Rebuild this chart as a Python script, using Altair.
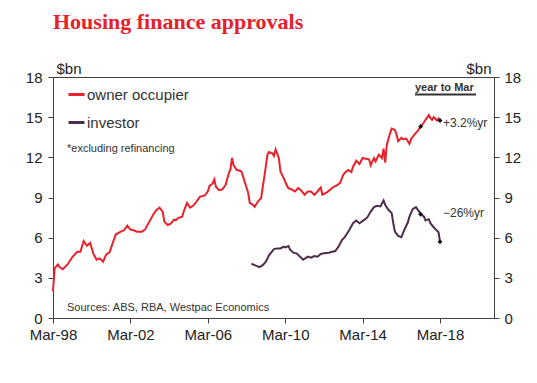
import altair as alt
import pandas as pd

TITLE = "Housing finance approvals"
SERIES = ["owner occupier", "investor"]
COLORS = ["#e8212b", "#4e2c4c"]
UNIT = "$bn"
NOTE = "*excluding refinancing"
SOURCE = "Sources: ABS, RBA, Westpac Economics"
PERIOD = "year to Mar"
CHANGE_OWNER = "+3.2%yr"
CHANGE_INVESTOR = "\u221226%yr"
MARKED = ["2017-03", "2018-03"]
X_TICK_YEARS = [1998, 2002, 2006, 2010, 2014, 2018]
Y_TICKS = [0, 3, 6, 9, 12, 15, 18]

owner_dates = [
    "1998-03", "1998-04", "1998-06", "1998-07", "1998-09", "1998-12", "1999-03", "1999-06",
    "1999-08", "1999-10", "1999-12", "2000-02", "2000-04", "2000-06", "2000-08", "2000-10",
    "2000-12", "2001-02", "2001-04", "2001-06", "2001-09", "2001-11", "2002-01", "2002-03",
    "2002-05", "2002-07", "2002-10", "2002-12", "2003-02", "2003-05", "2003-07", "2003-09",
    "2003-11", "2003-12", "2004-02", "2004-04", "2004-06", "2004-07", "2004-09", "2004-11",
    "2004-12", "2005-02", "2005-04", "2005-06", "2005-08", "2005-10", "2006-01", "2006-03",
    "2006-04", "2006-06", "2006-07", "2006-08", "2006-10", "2006-12", "2007-02", "2007-04",
    "2007-05", "2007-06", "2007-07", "2007-09", "2007-11", "2007-12", "2008-02", "2008-04",
    "2008-05", "2008-07", "2008-08", "2008-10", "2008-12", "2009-02", "2009-04", "2009-05",
    "2009-07", "2009-08", "2009-09", "2009-11", "2009-12", "2010-02", "2010-04", "2010-05",
    "2010-07", "2010-09", "2010-11", "2011-01", "2011-03", "2011-05", "2011-07", "2011-09",
    "2011-11", "2012-01", "2012-02", "2012-05", "2012-07", "2012-09", "2012-11", "2013-01",
    "2013-03", "2013-04", "2013-06", "2013-08", "2013-09", "2013-11", "2014-01", "2014-03",
    "2014-05", "2014-07", "2014-08", "2014-10", "2014-11", "2015-01", "2015-03", "2015-04",
    "2015-05", "2015-06", "2015-08", "2015-09", "2015-11", "2015-12", "2016-01", "2016-03",
    "2016-04", "2016-06", "2016-08", "2016-09", "2016-11", "2017-01", "2017-03", "2017-05",
    "2017-06", "2017-08", "2017-09", "2017-10", "2017-11", "2018-01", "2018-02", "2018-03",
]
owner_values = [
    2.0, 3.7, 4.0, 3.8, 3.65, 4.0, 4.55, 4.95,
    4.95, 5.75, 5.4, 5.6, 4.8, 4.35, 4.45, 4.2,
    4.75, 4.9, 5.6, 6.25, 6.45, 6.55, 6.9, 6.6,
    6.55, 6.45, 6.45, 6.6, 7.05, 7.7, 8.05, 8.25,
    7.95, 7.2, 6.95, 7.05, 7.35, 7.3, 7.5, 7.55,
    7.95, 8.6, 8.25, 8.4, 8.7, 9.05, 9.15, 9.45,
    9.85, 10.05, 10.35, 9.8, 9.55, 9.6, 9.95, 10.8,
    11.1, 11.95, 11.4, 11.05, 11.0, 10.9, 10.1, 9.35,
    8.6, 8.45, 8.3, 8.7, 8.95, 10.6, 12.2, 12.4,
    12.3, 12.1, 12.6, 11.95, 10.95, 10.45, 9.9, 9.7,
    9.6, 9.45, 9.7, 9.5, 9.2, 9.45, 9.45, 9.2,
    9.45, 9.75, 9.2, 9.4, 9.6, 9.8, 9.9, 10.1,
    10.7, 10.85, 11.05, 10.9, 11.3, 11.75, 11.5, 11.95,
    11.9, 11.85, 11.4, 11.95, 11.7, 12.2, 11.95, 12.65,
    11.6, 12.95, 13.8, 14.15, 14.05, 13.7, 13.2, 13.45,
    13.35, 13.4, 13.0, 13.35, 13.7, 13.95, 14.3, 14.6,
    14.8, 15.15, 14.95, 14.8, 15.0, 14.75, 14.9, 14.75,
]

investor_dates = [
    "2008-06", "2008-08", "2008-11", "2009-01", "2009-03", "2009-05", "2009-08", "2009-10",
    "2009-12", "2010-02", "2010-03", "2010-05", "2010-06", "2010-08", "2010-10", "2010-12",
    "2011-02", "2011-05", "2011-07", "2011-09", "2011-11", "2012-01", "2012-03", "2012-06",
    "2012-08", "2012-10", "2012-12", "2013-02", "2013-04", "2013-07", "2013-09", "2013-11",
    "2014-01", "2014-04", "2014-06", "2014-08", "2014-10", "2014-12", "2015-02", "2015-04",
    "2015-05", "2015-07", "2015-09", "2015-10", "2015-11", "2016-01", "2016-03", "2016-05",
    "2016-07", "2016-08", "2016-10", "2016-12", "2017-02", "2017-03", "2017-05", "2017-06",
    "2017-08", "2017-09", "2017-11", "2018-01", "2018-02", "2018-03",
]
investor_values = [
    4.05, 3.95, 3.8, 3.95, 4.2, 4.7, 5.15, 5.2,
    5.2, 5.33, 5.28, 5.38, 5.1, 4.88, 4.83, 4.6,
    4.35, 4.58, 4.5, 4.63, 4.58, 4.78, 4.83, 4.88,
    4.95, 5.0, 5.33, 5.8, 6.05, 6.63, 7.08, 7.28,
    7.08, 7.33, 7.53, 7.95, 8.28, 8.38, 8.33, 8.78,
    8.45, 8.08, 7.83, 7.08, 6.45, 6.13, 6.03, 6.63,
    7.13, 7.58, 8.13, 8.28, 7.95, 7.75, 7.58, 7.28,
    7.38, 7.08, 6.78, 6.53, 6.4, 5.7,
]

TEXT = "#333333"
AXIS = "#404040"
FONT = "Liberation Sans"


def frame(name, dates, values):
    return pd.DataFrame({
        "series": name,
        "month": dates,
        "date": [d.replace("-", "/") + "/01" for d in dates],
        "value": values,
    })


df = pd.concat([frame(SERIES[0], owner_dates, owner_values),
                frame(SERIES[1], investor_dates, investor_values)], ignore_index=True)
marked = df[df["month"].isin(MARKED)]
last_owner = df[(df["series"] == SERIES[0]) & (df["month"] == MARKED[-1])]
last_inv = df[(df["series"] == SERIES[1]) & (df["month"] == MARKED[-1])]

x_enc = alt.X(
    "date:T",
    scale=alt.Scale(domain=[alt.DateTime(year=1998, month=3, date=1),
                            alt.DateTime(year=2020, month=12, date=14)]),
    axis=alt.Axis(values=[alt.DateTime(year=y, month=3, date=1) for y in X_TICK_YEARS],
                  format="%b-%y", title=None, labelPadding=4, labelFlush=False),
)
y_scale = alt.Scale(domain=[0, 18], nice=False, zero=True)

lines = alt.Chart(df).mark_line(strokeWidth=2).encode(
    x=x_enc,
    y=alt.Y("value:Q", scale=y_scale,
            axis=alt.Axis(orient="left", values=Y_TICKS, title=UNIT, titleAngle=0,
                          titleX=3, titleY=-4, titleAlign="left",
                          titleBaseline="alphabetic", labelPadding=6)),
    color=alt.Color("series:N", scale=alt.Scale(domain=SERIES, range=COLORS),
                    legend=alt.Legend(title=None, orient="none", legendX=14, legendY=8,
                                      symbolType="stroke", symbolSize=256,
                                      symbolStrokeWidth=3, labelFont=FONT,
                                      labelFontSize=15, labelColor=TEXT,
                                      labelOffset=1, rowPadding=10, padding=0)),
)

dots = alt.Chart(marked).mark_point(shape="diamond", filled=True, size=24,
                                    color="#111111", opacity=1).encode(
    x="date:T",
    y=alt.Y("value:Q", scale=y_scale,
            axis=alt.Axis(orient="right", values=Y_TICKS, title=UNIT, titleAngle=0,
                          titleX=-3, titleY=-4, titleAlign="right",
                          titleBaseline="alphabetic", labelPadding=5)),
)

owner_label = alt.Chart(last_owner).mark_text(
    align="left", baseline="middle", dx=3, dy=2, font=FONT, fontSize=12, color=TEXT
).encode(x="date:T", y=alt.Y("value:Q", scale=y_scale, axis=None), text=alt.value(CHANGE_OWNER))

inv_label = alt.Chart(last_inv).mark_text(
    align="left", baseline="middle", dx=3, dy=-29, font=FONT, fontSize=12, color=TEXT
).encode(x="date:T", y=alt.Y("value:Q", scale=y_scale, axis=None), text=alt.value(CHANGE_INVESTOR))

one = alt.Data(values=[{"k": 0}])


def note(text, x, y, size, weight="normal", align="left"):
    return alt.Chart(one).mark_text(align=align, baseline="middle", font=FONT,
                                    fontSize=size, fontWeight=weight, color=TEXT).encode(
        x=alt.value(x), y=alt.value(y), text=alt.value(text))


note_layer = note(NOTE, 14, 72, 11)
source_layer = note(SOURCE, 14, 231, 11)
period_layer = note(PERIOD, 362, 11, 11, weight="bold")
underline = alt.Chart(one).mark_rule(color=TEXT, strokeWidth=2).encode(
    x=alt.value(362), x2=alt.value(423), y=alt.value(17.5))

chart = alt.layer(
    lines, dots, owner_label, inv_label, note_layer, source_layer, period_layer, underline
).resolve_axis(y="independent").properties(
    width=441, height=241,
    title=alt.Title(TITLE, anchor="start", frame="group", font="Liberation Serif",
                    fontSize=22, fontWeight="bold", color="#e8202a", dy=-23),
    autosize=alt.AutoSizeParams(type="none"),
    padding={"left": 45, "top": 69, "right": 35, "bottom": 50},
).configure_view(stroke=AXIS, strokeWidth=1).configure_axis(
    domainColor=AXIS, tickColor=AXIS, tickSize=5, grid=False,
    labelFont=FONT, labelFontSize=15, labelColor="#222222",
    titleFont=FONT, titleFontSize=15, titleFontWeight="normal", titleColor="#222222",
)

chart.save("out.html", embed_options={"renderer": "svg", "actions": False})
